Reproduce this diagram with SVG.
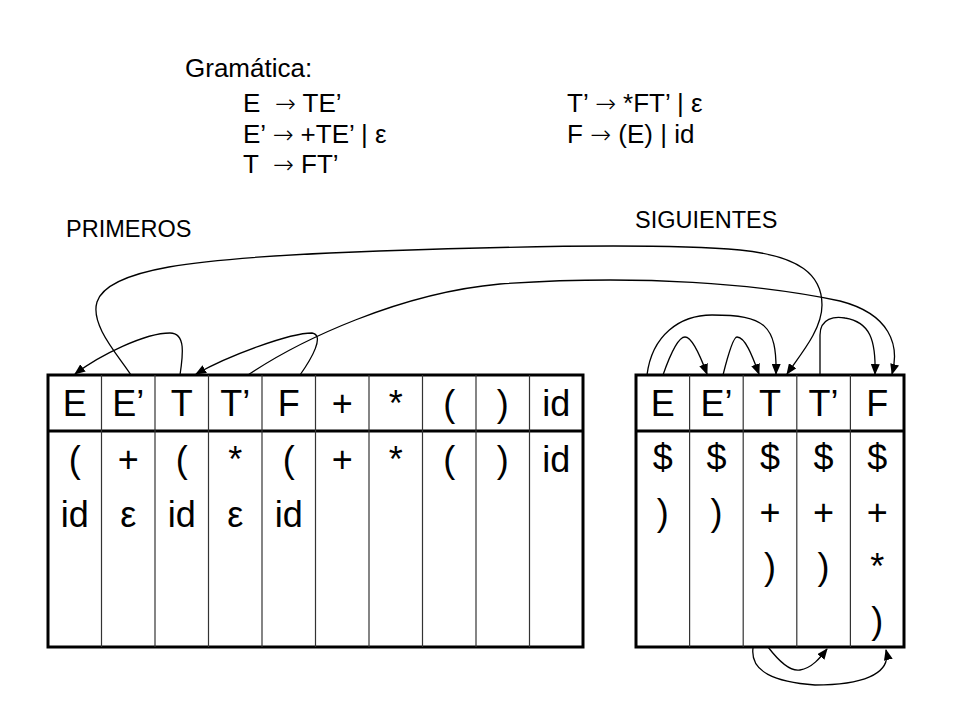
<svg xmlns="http://www.w3.org/2000/svg" width="960" height="720" viewBox="0 0 960 720">
<defs>
<style>
text{font-family:"Liberation Sans",Arial,sans-serif;fill:#000}
.g{font-size:26px}
.ar{font-family:"DejaVu Sans",sans-serif;font-size:25px;font-weight:200}
.lbl{font-size:23.5px}
.cell{font-size:36px;text-anchor:middle}
.outer{fill:none;stroke:#000;stroke-width:3}
.sep{stroke:#000;stroke-width:3}
.vl{stroke:#333;stroke-width:1.2}
.c{fill:none;stroke:#000;stroke-width:1.3;marker-end:url(#ah)}
</style>
<marker id="ah" markerUnits="userSpaceOnUse" markerWidth="11" markerHeight="9" refX="10" refY="4.5" orient="auto">
<path d="M0,0 L11,4.5 L0,9 z" fill="#000"/>
</marker>
</defs>
<rect width="960" height="720" fill="#fff"/>

<g id="grammar">
<text x="185" y="77" style="font-size:26px">Gramática:</text>
<text class="g" x="243" y="112" xml:space="preserve">E  <tspan class="ar">→</tspan> TE’</text>
<text class="g" x="243" y="143" xml:space="preserve">E’ <tspan class="ar">→</tspan> +TE’ | ε</text>
<text class="g" x="243" y="173" xml:space="preserve">T  <tspan class="ar">→</tspan> FT’</text>
<text class="g" x="567" y="112" xml:space="preserve">T’ <tspan class="ar">→</tspan> *FT’ | ε</text>
<text class="g" x="567" y="143" xml:space="preserve">F <tspan class="ar">→</tspan> (E) | id</text>
</g>

<g id="label-primeros"><text class="lbl" x="66" y="237">PRIMEROS</text></g>
<g id="label-siguientes"><text class="lbl" x="635" y="228">SIGUIENTES</text></g>

<g id="table-primeros">
<rect class="outer" x="48" y="375" width="535" height="272"/>
<line class="sep" x1="48" y1="431" x2="583" y2="431"/>
<line class="vl" x1="101.5" y1="375" x2="101.5" y2="647"/>
<line class="vl" x1="155" y1="375" x2="155" y2="647"/>
<line class="vl" x1="208.5" y1="375" x2="208.5" y2="647"/>
<line class="vl" x1="262" y1="375" x2="262" y2="647"/>
<line class="vl" x1="315.5" y1="375" x2="315.5" y2="647"/>
<line class="vl" x1="369" y1="375" x2="369" y2="647"/>
<line class="vl" x1="422.5" y1="375" x2="422.5" y2="647"/>
<line class="vl" x1="476" y1="375" x2="476" y2="647"/>
<line class="vl" x1="529.5" y1="375" x2="529.5" y2="647"/>
<text class="cell" x="74.75" y="416">E</text>
<text class="cell" x="128.25" y="416">E’</text>
<text class="cell" x="181.75" y="416">T</text>
<text class="cell" x="235.25" y="416">T’</text>
<text class="cell" x="288.75" y="416">F</text>
<text class="cell" x="342.25" y="416">+</text>
<text class="cell" x="395.75" y="416">*</text>
<text class="cell" x="449.25" y="416">(</text>
<text class="cell" x="502.75" y="416">)</text>
<text class="cell" x="556.25" y="416">id</text>
<text class="cell" x="74.75" y="472">(</text>
<text class="cell" x="128.25" y="472">+</text>
<text class="cell" x="181.75" y="472">(</text>
<text class="cell" x="235.25" y="472">*</text>
<text class="cell" x="288.75" y="472">(</text>
<text class="cell" x="342.25" y="472">+</text>
<text class="cell" x="395.75" y="472">*</text>
<text class="cell" x="449.25" y="472">(</text>
<text class="cell" x="502.75" y="472">)</text>
<text class="cell" x="556.25" y="472">id</text>
<text class="cell" x="74.75" y="527">id</text>
<text class="cell" x="128.25" y="527">ε</text>
<text class="cell" x="181.75" y="527">id</text>
<text class="cell" x="235.25" y="527">ε</text>
<text class="cell" x="288.75" y="527">id</text>
</g>

<g id="table-siguientes">
<rect class="outer" x="636" y="375" width="268" height="272"/>
<line class="sep" x1="636" y1="431" x2="904" y2="431"/>
<line class="vl" x1="689.6" y1="375" x2="689.6" y2="647"/>
<line class="vl" x1="743.2" y1="375" x2="743.2" y2="647"/>
<line class="vl" x1="796.8" y1="375" x2="796.8" y2="647"/>
<line class="vl" x1="850.4" y1="375" x2="850.4" y2="647"/>
<text class="cell" x="662.8" y="416">E</text>
<text class="cell" x="716.4" y="416">E’</text>
<text class="cell" x="770" y="416">T</text>
<text class="cell" x="823.6" y="416">T’</text>
<text class="cell" x="877.2" y="416">F</text>
<text class="cell" x="662.8" y="470">$</text>
<text class="cell" x="716.4" y="470">$</text>
<text class="cell" x="770" y="470">$</text>
<text class="cell" x="823.6" y="470">$</text>
<text class="cell" x="877.2" y="470">$</text>
<text class="cell" x="662.8" y="525">)</text>
<text class="cell" x="716.4" y="525">)</text>
<text class="cell" x="770" y="525">+</text>
<text class="cell" x="823.6" y="525">+</text>
<text class="cell" x="877.2" y="525">+</text>
<text class="cell" x="770" y="579">)</text>
<text class="cell" x="823.6" y="579">)</text>
<text class="cell" x="877.2" y="579">*</text>
<text class="cell" x="877.2" y="633">)</text>
</g>

<g id="connectors">
<path class="c" d="M131,375 C118,355 90,325 97,302 C108,268 200,259 330,253 C480,247 650,242 740,250 C800,256 822,275 822,305 C822,330 800,355 787,374"/>
<path class="c" d="M248,375 C300,340 400,293 500,284 C640,274 760,284 840,301 C890,314 900,345 892,374"/>
<path class="c" d="M180,375 C183,355 186,333 170,333 C145,333 100,355 75,374"/>
<path class="c" d="M300,375 C312,358 325,335 312,333 C290,333 230,355 196,374"/>
<path class="c" d="M647,375 C652,335 680,315 712,315 C765,315 777,325 776,374"/>
<path class="c" d="M663,375 C670,355 678,337 685,337 C692,337 700,355 707,374"/>
<path class="c" d="M723,375 C728,355 733,337 737,337 C745,337 752,355 759,374"/>
<path class="c" d="M820,375 L820,335 C820,318 835,316 845,318 C870,322 876,340 875,374"/>
<path class="c" d="M768,647 C778,660 790,672 800,670 C812,668 820,658 827,649"/>
<path class="c" d="M753,648 C750,672 775,682 815,685 C860,685 892,675 886,650"/>
</g>
</svg>
